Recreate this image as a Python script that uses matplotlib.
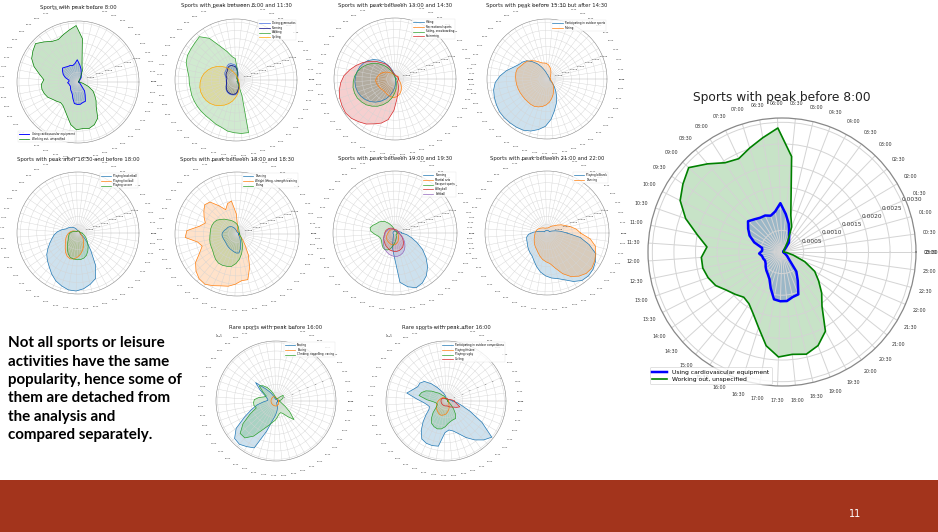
import numpy as np
import matplotlib
matplotlib.use("Agg")
import matplotlib.pyplot as plt
from matplotlib.patches import Rectangle

W, H = 938, 532

# ---------------- tick labels ----------------
time_labels = [f"{i // 2:02d}:{(i % 2) * 30:02d}" for i in range(48)]

# ---------------- data (values per half hour, 00:00 .. 23:30) ----------------
# units of 1e-5
cardio = [4,4,4,4,4,6,11,27, 34,46,67,88,113,95,88,93, 94,99,106,95,84,68,47,46,
          53,47,46,44,46,51,56,61, 69,88,111,114,114,107,105,76, 56,23,15,9,6,5,4,4]
workout = [4,4,4,4,5,5,6,11, 27,62,88,222,287,268,252,238, 245,267,291,278,264,236,200,174,
           187,187,181,172,156,146,137,142, 158,183,220,243,238,243,232,209, 156,132,108,88,57,27,11,4]

# chart 2 (1e-5)
gymnastics = [10,10,10,10,10,10,16,20, 24,36,50,70,90,96,104,106, 100,90,84,82,76,68,62,60,
              60,60,60,66,74,82,88,92, 94,94,92,90,80,64,52,44, 32,24,18,12,12,12,12,12]
running = [8,8,8,8,8,8,12,16, 20,30,44,62,80,86,92,94, 90,80,74,72,68,62,56,56,
           58,60,62,66,72,78,84,88, 90,90,88,84,74,58,46,38, 28,20,14,10,10,10,10,8]
walking = [10,10,10,10,10,10,10,10, 10,10,30,70,130,144,180,224, 300,344,336,332,330,320,300,286,
           284,282,284,284,284,284,284,286, 294,300,314,320,326,328,100,30, 10,10,10,10,10,10,10,10]
cycling = [14,14,14,14,14,15,16,16, 18,20,24,28,32,40,50,66, 82,102,124,144,164,182,198,210,
           218,224,226,224,220,212,200,184, 168,150,130,108,88,70,54,42, 34,28,22,20,18,16,15,14]

# chart 3 (1e-5)
hiking = [6,6,6,6,6,6,6,6, 6,6,8,12,20,34,56,86, 120,150,176,198,214,226,234,240,
          244,244,240,232,220,204,184,160, 134,106,78,52,30,18,12,8, 6,6,6,6,6,6,6,6]
recreational = [20,20,20,22,24,24,24,22, 20,20,20,20,20,24,30,36, 44,52,62,74,86,96,104,112,
                118,116,112,108,104,100,100,102, 106,110,112,112,108,100,90,78, 66,54,44,36,30,26,22,20]
skiing = [6,6,6,6,6,6,6,6, 6,6,6,8,10,18,32,54, 82,110,140,168,192,214,232,246,
          254,260,260,256,246,234,216,196, 172,146,118,88,62,34,20,12, 6,6,6,6,6,6,6,6]
swimming = [20,20,20,20,20,20,20,20, 20,20,20,24,28,32,40,80, 110,130,160,190,220,250,280,310,
            330,345,355,360,364,356,340,324, 300,280,250,190,120,80,60,40, 30,20,20,20,20,20,20,20]

# chart 4 (1e-5)
outdoor = [16,16,16,16,16,16,16,16, 16,20,24,28,32,44,60,84, 112,140,168,184,196,220,256,290,
           320,336,344,350,356,356,354,352, 348,336,316,292,250,200,160,124, 90,64,44,30,20,20,20,20]
fishing = [20,20,20,20,24,28,32,40, 50,64,76,88,96,100,104,116, 132,148,164,172,180,194,196,194,
           192,190,188,186,184,184,184,186, 186,180,172,160,144,124,104,84, 68,56,44,36,28,24,20,20]

# chart 5 (1e-5)
basketball = [12,12,12,12,12,12,12,12, 12,12,12,12,12,16,20,28, 36,44,52,60,68,76,100,124,
              144,160,180,204,230,250,270,296, 320,336,350,352,340,320,296,220, 130,80,50,30,16,16,16,16]
football = [12,12,12,12,12,12,12,12, 12,12,12,12,12,12,12,12, 12,12,16,20,28,36,44,52,
            60,68,76,84,92,104,120,140, 156,164,160,148,132,112,92,72, 56,44,32,24,16,16,16,16]
soccer = [24,12,12,12,12,12,12,12, 12,12,12,12,12,12,12,12, 12,12,12,16,20,28,36,44,
          52,56,60,66,72,84,100,120, 140,156,160,162,162,156,144,124, 104,84,68,56,44,36,28,24]

# chart 6 (1e-5)
dancing6 = [10,10,10,10,10,10,10,10, 10,10,10,12,14,20,30,40, 50,58,64,68,70,76,82,88,
            90,88,86,84,84,86,90,94, 98,102,108,114,114,90,60,40, 28,20,14,10,10,10,10,10]
weights = [16,16,16,16,16,16,16,16, 16,16,16,40,120,200,190,160, 200,250,260,240,220,200,230,300,
           310,240,220,250,300,330,350,356, 340,324,316,300,280,280,210,140, 80,50,30,16,16,16,16,16]
biking = [16,16,16,16,16,16,18,20, 24,30,40,50,60,70,80,90, 100,116,130,146,154,158,160,160,
          162,166,170,172,176,186,198,206, 206,202,196,176,150,120,90,66, 48,38,30,24,20,18,16,16]

# chart 7 (1e-5)
running7 = [40,36,28,20,12,12,12,12, 12,12,12,12,12,12,12,12, 12,12,12,12,12,12,12,12,
            12,12,12,12,12,12,12,16, 24,40,90,140,296,330,350,340, 316,280,236,190,140,100,70,40]
martial = [16,16,16,16,16,16,16,16, 16,16,16,16,18,20,22,24, 26,28,30,32,34,36,38,40,
           44,48,52,56,60,64,66,68, 70,72,72,70,66,60,52,44, 36,30,26,22,20,18,16,16]
racquet = [12,12,12,12,12,12,12,12, 12,12,12,12,12,20,32,48, 68,88,104,116,124,140,152,144,
           120,100,92,92,96,104,112,116, 112,100,80,60,44,32,24,12, 12,12,12,12,12,12,12,12]
volleyball = [24,22,20,20,20,20,20,20, 20,20,20,20,20,22,26,30, 34,38,42,46,50,54,58,60,
              62,66,70,76,80,84,90,96, 100,106,108,110,110,108,102,96, 84,72,60,50,40,32,28,24]
softball = [20,18,16,16,16,16,16,16, 16,16,16,16,16,18,20,24, 28,32,36,40,44,48,52,56,
            60,64,70,78,86,94,104,114, 122,130,136,140,140,136,128,116, 100,84,68,54,42,32,26,20]

# chart 8 (1e-5)
billiards = [120,80,50,30,16,16,16,16, 16,16,16,16,16,16,16,16, 16,16,16,16,16,28,50,80,
             110,124,128,132,140,148,156,164, 184,210,236,256,270,280,300,330, 352,356,350,336,316,260,200,120]
dancing8 = [200,176,144,116,96,76,60,52, 44,36,32,30,30,30,30,32, 36,40,44,50,56,62,66,70,
            72,76,80,86,92,100,108,116, 128,144,160,172,184,216,260,296, 320,336,340,330,316,300,260,200]

# rare charts (units of 1e-6)
skating = [2,2,2,2,2,2,2,2, 2,2,2,2,2,2,2,6, 12,19,33,23,15,12,10,10,
           15,23,31,42,58,67,68,65, 62,38,23,17,12,8,2,2, 2,2,2,2,2,2,2,2]
boxing = [3,3,3,3,3,3,3,3, 3,3,3,4,4,5,5,6, 6,6,6,6,6,6,6,6,
          6,6,6,6,6,6,6,6, 6,6,6,6,6,6,5,5, 5,4,4,4,3,3,3,3]
climbing = [4,5,7,9,10,11,7,4, 3,3,3,3,3,5,8,13, 19,24,27,19,13,15,21,26,
            27,27,25,35,48,58,58,50, 38,31,26,23,19,16,15,17, 23,31,21,13,8,6,5,4]
competitions = [8,6,5,4,3,3,3,3, 3,3,3,3,5,7,10,13, 19,27,35,38,38,42,48,35,
                27,23,21,23,29,37,46,54, 56,56,55,38,35,37,42,50, 58,65,70,50,31,19,13,8]
frisbee = [3,3,3,3,3,3,3,3, 3,3,3,3,3,3,4,4, 5,5,6,6,7,7,8,9,
           10,11,12,13,14,15,16,17, 18,18,17,16,14,12,10,8, 6,5,4,4,3,3,3,3]
rugby = [2,2,2,2,2,2,2,2, 2,2,2,2,2,4,5,7, 8,12,15,21,27,31,33,23,
         15,12,11,12,15,21,27,32, 34,35,34,31,27,25,24,24, 19,13,8,5,4,2,2,2]
curling = [10,8,6,5,4,3,3,3, 3,3,3,3,3,3,3,3, 4,4,5,5,6,6,6,6,
           6,6,6,6,6,6,6,6, 6,6,6,6,6,6,7,8, 9,10,12,15,18,14,11,10]

U5 = 1e-5
U6 = 1e-6

text_lines = ["Not all sports or leisure", "activities have the same",
              "popularity, hence some of", "them are detached from",
              "the analysis and", "compared separately."]

# ---------------- figure ----------------
fig = plt.figure(figsize=(W / 100, H / 100), dpi=100)
fig.patch.set_facecolor("white")
theta = np.linspace(0, 2 * np.pi, 48)


def polar_ax(cx, cy, R):
    return fig.add_axes([(cx - R) / W, (H - cy - R) / H, 2 * R / W, 2 * R / H],
                        projection="polar")


def draw(cx, cy, R, title, series, unit, rmax, rstep, big=False,
         loc="upper right", title_dy=None):
    ax = polar_ax(cx, cy, R)
    lw = 1.5 if big else 0.5
    for label, vals, col, lwf in series:
        r = np.asarray(vals, float) * unit
        ax.fill(theta, r, color=col, alpha=0.22, lw=0)
        ax.plot(theta, r, color=col, lw=lw * lwf, label=label)
    ax.set_xticks(theta)
    ax.set_xticklabels(time_labels, fontsize=3.4 if big else 1.5, color="#333333")
    ax.set_ylim(0, rmax)
    ax.set_yticks(np.arange(rstep, rmax * 0.999, rstep))
    ax.tick_params(axis="y", labelsize=4.2 if big else 1.7, colors="#333333")
    ax.tick_params(axis="x", pad=0.3 if big else 0.2)
    ax.set_rlabel_position(22.5)
    ax.grid(True, color="#d4d4d4", lw=0.7 if big else 0.3)
    ax.spines["polar"].set_color("#888888")
    ax.spines["polar"].set_linewidth(0.9 if big else 0.4)
    ax.yaxis.get_offset_text().set_fontsize(1.8)
    leg = ax.legend(loc=loc, fontsize=4.3 if big else 1.9, frameon=True,
                    borderaxespad=0.3, handlelength=2.5 if big else 4,
                    labelspacing=0.3, borderpad=0.4)
    leg.get_frame().set_linewidth(0.5 if big else 0.2)
    leg.get_frame().set_edgecolor("#cccccc")
    if title_dy is None:
        title_dy = R + 13 if not big else R + 19
    fig.text(cx / W, 1 - (cy - title_dy) / H, title, ha="center", va="center",
             fontsize=8.8 if big else 3.8, color="#222222")
    return ax


B, G = "blue", "green"
T = ["tab:blue", "tab:orange", "tab:green", "tab:red", "tab:purple"]

# row 1
draw(78, 82, 61, "Sports with peak before 8:00",
     [("Using cardiovascular equipment", cardio, B, 1.3),
      ("Working out, unspecified", workout, G, 1.0)],
     U5, 0.0031, 0.0005, loc="lower left")
draw(236, 80, 61, "Sports with peak between 8:00 and 11:30",
     [("Doing gymnastics", gymnastics, "royalblue", 1),
      ("Running", running, "navy", 1),
      ("Walking", walking, "tab:green", 1),
      ("Cycling", cycling, "orange", 1)],
     U5, 0.0037, 0.0005)
draw(395, 79, 61, "Sports with peak between 13:00 and 14:30",
     [("Hiking", hiking, T[0], 1), ("Recreational sports", recreational, T[1], 1),
      ("Skiing, snowboarding", skiing, T[2], 1), ("Swimming", swimming, T[3], 1)],
     U5, 0.0037, 0.0005)
draw(547, 79, 60, "Sports with peak before 15:30 but after 14:30",
     [("Participating in outdoor sports", outdoor, T[0], 1), ("Fishing", fishing, T[1], 1)],
     U5, 0.0037, 0.0005)

# row 2
draw(78, 233, 61, "Sports with peak after 16:30 and before 18:00",
     [("Playing basketball", basketball, T[0], 1), ("Playing football", football, T[1], 1),
      ("Playing soccer", soccer, T[2], 1)],
     U5, 0.0037, 0.0005)
draw(237, 234, 62, "Sports with peak between 18:00 and 18:30",
     [("Dancing", dancing6, T[0], 1), ("Weight lifting, strength training", weights, T[1], 1),
      ("Biking", biking, T[2], 1)],
     U5, 0.0037, 0.0005)
draw(395, 233, 62, "Sports with peak between 19:00 and 19:30",
     [("Running", running7, T[0], 1), ("Martial arts", martial, T[1], 1),
      ("Racquet sports", racquet, T[2], 1), ("Volleyball", volleyball, T[3], 1),
      ("Softball", softball, T[4], 1)],
     U5, 0.0037, 0.0005)
draw(547, 233, 62, "Sports with peak between 21:00 and 22:00",
     [("Playing billiards", billiards, T[0], 1), ("Dancing", dancing8, T[1], 1)],
     U5, 0.0037, 0.0005)

# row 3 (rare)
draw(276, 401, 60, "Rare sports with peak before 16:00",
     [("Skating", skating, T[0], 1), ("Boxing", boxing, T[1], 1),
      ("Climbing, rappelling, caving", climbing, T[2], 1)],
     U6, 7.2e-5, 1e-5)
draw(446, 401, 60, "Rare sports with peak after 16:00",
     [("Participating in outdoor competitions", competitions, T[0], 1),
      ("Playing frisbee", frisbee, T[1], 1), ("Playing rugby", rugby, T[2], 1),
      ("Curling", curling, T[3], 1)],
     U6, 7.2e-5, 1e-5)

# big chart
draw(782, 252, 134, "Sports with peak before 8:00",
     [("Using cardiovascular equipment", cardio, B, 1.2),
      ("Working out, unspecified", workout, G, 0.8)],
     U5, 0.0031, 0.0005, big=True, loc="lower left", title_dy=154)

# text block
ys = [343, 361.5, 380, 398.5, 417, 435.5]
for y, line in zip(ys, text_lines):
    fig.text(8 / W, 1 - y / H, line, ha="left", va="center", fontsize=10.9,
             fontweight="bold", family="Lato", color="black")

# bottom band
fig.patches.append(Rectangle((0, 0), 1, 52 / H, transform=fig.transFigure,
                             facecolor="#a3341c", edgecolor="none", zorder=0))
fig.text(855 / W, 1 - 514 / H, "11", color="white", fontsize=7, ha="center", va="center")

fig.savefig("out.png", dpi=100)
